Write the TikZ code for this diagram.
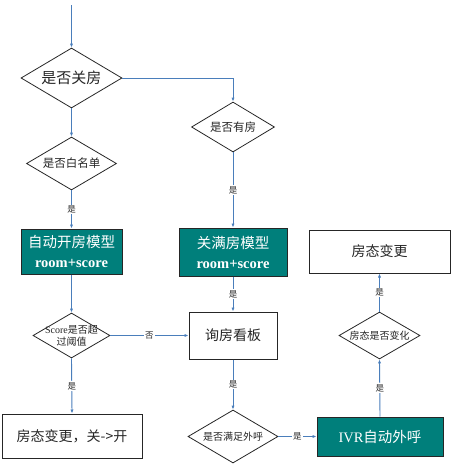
\documentclass[tikz,border=0pt]{standalone}
\usepackage{fontspec}
\setmainfont{Liberation Serif}
\newfontfamily\cjk{Noto Sans CJK SC}
\usetikzlibrary{shapes.geometric,arrows.meta}
\definecolor{flow}{HTML}{4A7EBB}
\definecolor{tealbox}{HTML}{007F7B}
\definecolor{edgegray}{HTML}{262626}
\tikzset{
  plainbox/.style={draw=edgegray, line width=1pt, fill=white, inner sep=0pt,
    text=black!85, font=\cjk\fontsize{14}{16}\selectfont},
  modelbox/.style={draw=edgegray, line width=1pt, fill=tealbox, inner sep=0pt,
    text=white, align=center, font=\fontsize{14.5}{20}\selectfont},
  decision/.style={diamond, draw=edgegray, line width=0.8pt, fill=white, inner sep=0pt},
  dtext/.style={inner sep=0pt, align=center, text=black!85},
  flowline/.style={draw=flow, line width=0.9pt, -{Latex[length=4pt,width=3.2pt]}},
  yes/.style={fill=white, inner sep=1pt, text=black!85, font=\cjk\fontsize{8.5}{9}\selectfont}
}
\begin{document}
\begin{tikzpicture}[x=1pt,y=-1pt]
\useasboundingbox (0,0) rectangle (452,466);

% left column
\coordinate (start) at (71.5,5);
\node[decision, minimum width=101pt, minimum height=60pt] (d1) at (71.5,78) {};
\node[dtext, font=\cjk\fontsize{15}{16}\selectfont] (d1t) at (d1) {是否关房};
\node[decision, minimum width=90pt, minimum height=53pt] (d3) at (71.5,163.5) {};
\node[dtext, font=\cjk\fontsize{11.5}{12}\selectfont] (d3t) at (d3) {是否白名单};
\node[modelbox, minimum width=101pt, minimum height=45pt] (b1) at (71.5,251.5)
  {{\cjk 自动开房模型}\\{\bfseries room+score}};
\node[decision, minimum width=77pt, minimum height=45pt] (d4) at (71.5,335.5) {};
\node[dtext, font=\fontsize{10}{12}\selectfont] (d4t) at (d4)
  {Score{\cjk 是否超}\\{\cjk 过阈值}};
\node[plainbox, minimum width=140pt, minimum height=44pt] (b5) at (72,436) {房态变更，关->开};

% middle column
\node[decision, minimum width=83pt, minimum height=50pt] (d2) at (233,127) {};
\node[dtext, font=\cjk\fontsize{11.5}{12}\selectfont] (d2t) at (d2) {是否有房};
\node[modelbox, minimum width=108pt, minimum height=48pt] (b2) at (233,252)
  {{\cjk 关满房模型}\\{\bfseries room+score}};
\node[plainbox, minimum width=88pt, minimum height=47pt] (b4) at (233,335.5) {询房看板};
\node[decision, minimum width=90pt, minimum height=53pt] (d5) at (233,436.5) {};
\node[dtext, font=\cjk\fontsize{10}{12}\selectfont] (d5t) at (d5) {是否满足外呼};

% right column
\node[plainbox, minimum width=141pt, minimum height=43pt] (b3) at (379.5,251.5) {房态变更};
\node[decision, minimum width=81pt, minimum height=47pt] (d6) at (379.5,335.5) {};
\node[dtext, font=\cjk\fontsize{10}{12}\selectfont] (d6t) at (d6) {房态是否变化};
\node[modelbox, minimum width=126pt, minimum height=39pt] (b6) at (380,436.5)
  {IVR{\cjk 自动外呼}};

% connectors
\draw[flowline] (start) -- (d1.north);
\draw[flowline] (d1.east) -| (d2.north);
\draw[flowline] (d1.south) -- (d3.north);
\draw[flowline] (d3.south) -- node[yes] (l1) {是} (b1.north);
\draw[flowline] (d2.south) -- node[yes] (l2) {是} (b2.north);
\draw[flowline] (b1.south) -- (d4.north);
\draw[flowline] (d4.east) -- node[yes] (l3) {否} (b4.west);
\draw[flowline] (d4.south) -- node[yes] (l4) {是} (b5.north);
\draw[flowline] (b2.south) -- node[yes] (l5) {是} (b4.north);
\draw[flowline] (b4.south) -- node[yes] (l6) {是} (d5.north);
\draw[flowline] (d5.east) -- node[yes] (l7) {是} (b6.west);
\draw[flowline] (b6.north) -- node[yes] (l8) {是} (d6.south);
\draw[flowline] (d6.north) -- node[yes] (l9) {是} (b3.south);
\end{tikzpicture}
\end{document}
